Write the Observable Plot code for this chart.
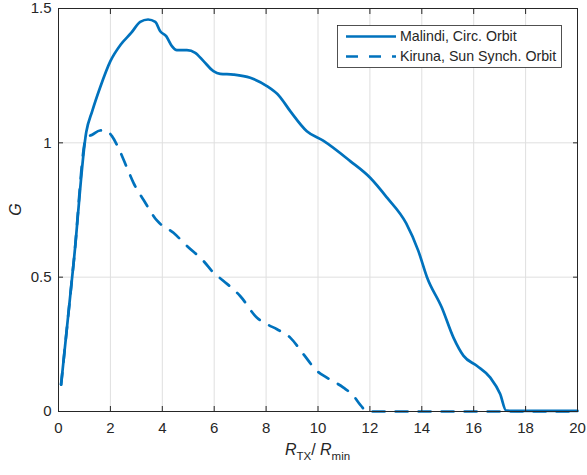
<!DOCTYPE html>
<html>
<head>
<meta charset="utf-8">
<script src="https://cdn.jsdelivr.net/npm/d3@7"></script>
<script src="https://cdn.jsdelivr.net/npm/@observablehq/plot@0.6"></script>
<style>
  html, body { margin: 0; padding: 0; background: #fff; }
  #chart { width: 587px; height: 475px; }
</style>
</head>
<body>
<div id="chart"></div>
<script>
// Axis ticks and labels
const xTicks = [0, 2, 4, 6, 8, 10, 12, 14, 16, 18, 20];
const yTicks = [0, 0.5, 1, 1.5];
const yTickLabels = ["0", "0.5", "1", "1.5"];
const seriesNames = ["Malindi, Circ. Orbit", "Kiruna, Sun Synch. Orbit"];

// G versus R_TX / R_min, Malindi launch site, circular orbit
const malindiX = [0.1, 0.6, 1.07, 1.3, 1.6, 2.0, 2.4, 2.8, 3.15, 3.45, 3.73, 3.92, 4.15, 4.37, 4.56,
  4.95, 5.27, 5.59, 5.97, 6.23, 6.74, 7.39, 8.03, 8.5, 8.93, 9.57, 10.2, 11.24, 12.01, 12.66, 13.4,
  13.87, 14.2, 14.77, 15.22, 15.61, 16.12, 16.64, 17.02, 17.25, 18, 19, 20];
const malindiY = [0.1, 0.57, 1.04, 1.118, 1.205, 1.304, 1.366, 1.409, 1.45, 1.459, 1.45, 1.415, 1.397, 1.36, 1.345,
  1.345, 1.335, 1.304, 1.267, 1.257, 1.254, 1.242, 1.211, 1.175, 1.118, 1.043, 1.008, 0.932, 0.87, 0.796, 0.7,
  0.597, 0.5, 0.387, 0.275, 0.207, 0.17, 0.126, 0.065, 0.003, 0.002, 0.002, 0.002];

// G versus R_TX / R_min, Kiruna launch site, sun-synchronous orbit
const kirunaX = [0.1, 0.6, 1.07, 1.3, 1.6, 1.8, 2.06, 2.31, 2.64, 2.89, 3.28, 3.8, 4.43, 4.95, 5.59,
  5.97, 6.36, 7.0, 7.65, 8.03, 8.42, 8.93, 9.44, 9.96, 10.34, 10.98, 11.37, 11.63, 11.9, 12,
  13, 14, 15, 16, 17, 18, 19, 20];
const kirunaY = [0.1, 0.57, 1.02, 1.03, 1.046, 1.047, 1.025, 0.981, 0.907, 0.851, 0.787, 0.71, 0.665, 0.616, 0.56,
  0.517, 0.486, 0.43, 0.349, 0.325, 0.306, 0.275, 0.213, 0.151, 0.126, 0.089, 0.058, 0.025, 0.0, 0.0,
  0, 0, 0, 0, 0, 0, 0, 0];

const malindi = malindiX.map((x, i) => ({x, y: malindiY[i]}));
const kiruna = kirunaX.map((x, i) => ({x, y: kirunaY[i]}));

const W = 587, H = 475;
const mL = 58, mR = 10, mT = 8, mB = 64;
const ink = "#262626";
const blue = "#0072BD";
const gridColor = "#dfdfdf";
const font = "'Liberation Sans', Arial, Helvetica, sans-serif";
const dash = "12,11";

const plot = Plot.plot({
  width: W,
  height: H,
  marginLeft: mL,
  marginRight: mR,
  marginTop: mT,
  marginBottom: mB,
  style: {fontFamily: font, fontSize: "15px", color: ink, background: "#fff", overflow: "visible"},
  x: {domain: [0, 20], label: null},
  y: {domain: [0, 1.5], label: null},
  marks: [
    Plot.gridX(xTicks, {stroke: gridColor, strokeOpacity: 1}),
    Plot.gridY(yTicks, {stroke: gridColor, strokeOpacity: 1}),
    Plot.line(malindi, {x: "x", y: "y", stroke: blue, strokeWidth: 2.7, curve: "monotone-x"}),
    Plot.line(kiruna, {x: "x", y: "y", stroke: blue, strokeWidth: 2.7, strokeDasharray: dash, curve: "monotone-x"}),
    Plot.frame({stroke: ink, strokeWidth: 1}),
    // inward ticks on all four sides
    Plot.axisX(xTicks, {anchor: "bottom", tickSize: -5, fill: "none", stroke: ink, label: null}),
    Plot.axisX(xTicks, {anchor: "top", tickSize: -5, fill: "none", stroke: ink, label: null}),
    Plot.axisY(yTicks, {anchor: "left", tickSize: -5, fill: "none", stroke: ink, label: null}),
    Plot.axisY(yTicks, {anchor: "right", tickSize: -5, fill: "none", stroke: ink, label: null}),
    // tick labels
    Plot.axisX(xTicks, {anchor: "bottom", tickSize: 0, tickPadding: 11, fill: ink, fontSize: 15, label: null}),
    Plot.axisY(yTicks, {anchor: "left", tickSize: 0, tickPadding: 7, fill: ink, fontSize: 15, label: null,
      tickFormat: (d) => yTickLabels[yTicks.indexOf(d)]})
  ]
});

document.getElementById("chart").appendChild(plot);

const svg = d3.select(plot);
const cx = (mL + (W - mR)) / 2;
const cy = (mT + (H - mB)) / 2;

// x-axis label: R_TX / R_min
const xl = svg.append("text")
  .attr("x", cx).attr("y", 455)
  .attr("text-anchor", "middle")
  .attr("font-family", font).attr("font-size", 16).attr("fill", ink);
xl.append("tspan").attr("font-style", "italic").text("R");
xl.append("tspan").attr("font-size", 11.5).attr("dy", 5).text("TX");
xl.append("tspan").attr("dy", -5).text("/ ");
xl.append("tspan").attr("font-style", "italic").text("R");
xl.append("tspan").attr("font-size", 11.5).attr("dy", 5).text("min");

// y-axis label: G
svg.append("text")
  .attr("transform", `translate(21,${cy}) rotate(-90)`)
  .attr("text-anchor", "middle")
  .attr("font-family", font).attr("font-size", 16).attr("font-style", "italic").attr("fill", ink)
  .text("G");

// legend
const lg = svg.append("g");
lg.append("rect")
  .attr("x", 337.5).attr("y", 25.5).attr("width", 224).attr("height", 42)
  .attr("fill", "#fff").attr("stroke", ink).attr("stroke-width", 0.8);
const rows = [{y: 36.5, dash: null}, {y: 56.5, dash: dash}];
rows.forEach((r, i) => {
  const ln = lg.append("line")
    .attr("x1", 346).attr("x2", 396).attr("y1", r.y).attr("y2", r.y)
    .attr("stroke", blue).attr("stroke-width", 2.7);
  if (r.dash) ln.attr("stroke-dasharray", r.dash);
  lg.append("text")
    .attr("x", 400).attr("y", r.y).attr("dy", "0.35em")
    .attr("text-anchor", "start")
    .attr("font-family", font).attr("font-size", 14.2).attr("fill", ink)
    .text(seriesNames[i]);
});
</script>
</body>
</html>
